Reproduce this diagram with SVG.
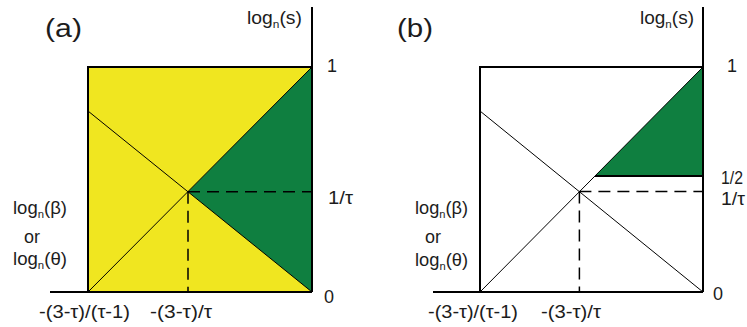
<svg xmlns="http://www.w3.org/2000/svg" width="747" height="327" viewBox="0 0 747 327">
<style>
.t{font-family:"Liberation Sans",Arial,sans-serif;font-size:18px;fill:#1c1c1c}
.big{font-size:26px}
.sub{font-size:11px}
.box{fill:none;stroke:#000;stroke-width:2}
.thin{fill:none;stroke:#000;stroke-width:1}
.dash{fill:none;stroke:#000;stroke-width:1.5;stroke-dasharray:12 7}
.yel{fill:#F0E620}
.grn{fill:#0F7F40}
</style>
<rect width="747" height="327" fill="#fff"/>
<g id="panel-a">
  <rect class="yel" x="88" y="67" width="224" height="225"/>
  <polygon class="grn" points="188,191.7 312,67 312,292"/>
</g>
<g id="panel-b">
  <polygon class="grn" points="595,176 703,67 703,176"/>
</g>
<g id="connectors">
  <line class="box" x1="312" y1="7" x2="312" y2="292"/>
  <line class="box" x1="50" y1="292" x2="312" y2="292"/>
  <polyline class="box" points="88,292 88,67 312,67"/>
  <line class="thin" x1="88" y1="292" x2="312" y2="67"/>
  <line class="thin" x1="88" y1="111" x2="312" y2="292"/>
  <line class="dash" x1="188" y1="191.7" x2="312" y2="191.7"/>
  <line class="dash" x1="188" y1="191.7" x2="188" y2="292"/>

  <line class="box" x1="703" y1="7" x2="703" y2="292"/>
  <line class="box" x1="433" y1="292" x2="703" y2="292"/>
  <polyline class="box" points="480,292 480,67 703,67"/>
  <line class="thin" x1="480" y1="292" x2="703" y2="67"/>
  <line class="thin" x1="480" y1="111" x2="703" y2="292"/>
  <line class="box" x1="595" y1="176" x2="703" y2="176"/>
  <line class="dash" x1="579.4" y1="191.5" x2="703" y2="191.5"/>
  <line class="dash" x1="579.4" y1="191.5" x2="579.4" y2="292"/>
</g>
<g id="labels-a">
  <text class="t big" x="45" y="37" textLength="37" lengthAdjust="spacingAndGlyphs">(a)</text>
  <text class="t" x="247" y="24" textLength="55" lengthAdjust="spacingAndGlyphs">log<tspan class="sub" dy="4">n</tspan><tspan dy="-4">(s)</tspan></text>
  <text class="t" x="327" y="72">1</text>
  <text class="t" x="328" y="204" textLength="25" lengthAdjust="spacingAndGlyphs">1/τ</text>
  <text class="t" x="324" y="303">0</text>
  <text class="t" x="39" y="318" textLength="91" lengthAdjust="spacingAndGlyphs">-(3-τ)/(τ-1)</text>
  <text class="t" x="150" y="318" textLength="62" lengthAdjust="spacingAndGlyphs">-(3-τ)/τ</text>
  <text class="t" x="13" y="214" textLength="54" lengthAdjust="spacingAndGlyphs">log<tspan class="sub" dy="4">n</tspan><tspan dy="-4">(β)</tspan></text>
  <text class="t" x="24" y="243" textLength="16" lengthAdjust="spacingAndGlyphs">or</text>
  <text class="t" x="13" y="265" textLength="54" lengthAdjust="spacingAndGlyphs">log<tspan class="sub" dy="4">n</tspan><tspan dy="-4">(θ)</tspan></text>
</g>
<g id="labels-b">
  <text class="t big" x="397" y="37" textLength="36" lengthAdjust="spacingAndGlyphs">(b)</text>
  <text class="t" x="640" y="24" textLength="54" lengthAdjust="spacingAndGlyphs">log<tspan class="sub" dy="4">n</tspan><tspan dy="-4">(s)</tspan></text>
  <text class="t" x="727" y="72">1</text>
  <text class="t" x="721" y="184" textLength="22" lengthAdjust="spacingAndGlyphs">1/2</text>
  <text class="t" x="721" y="205" textLength="24" lengthAdjust="spacingAndGlyphs">1/τ</text>
  <text class="t" x="713" y="300">0</text>
  <text class="t" x="428" y="318" textLength="90" lengthAdjust="spacingAndGlyphs">-(3-τ)/(τ-1)</text>
  <text class="t" x="541" y="318" textLength="60" lengthAdjust="spacingAndGlyphs">-(3-τ)/τ</text>
  <text class="t" x="415" y="214" textLength="53" lengthAdjust="spacingAndGlyphs">log<tspan class="sub" dy="4">n</tspan><tspan dy="-4">(β)</tspan></text>
  <text class="t" x="425" y="243" textLength="16" lengthAdjust="spacingAndGlyphs">or</text>
  <text class="t" x="415" y="266" textLength="53" lengthAdjust="spacingAndGlyphs">log<tspan class="sub" dy="4">n</tspan><tspan dy="-4">(θ)</tspan></text>
</g>
</svg>
